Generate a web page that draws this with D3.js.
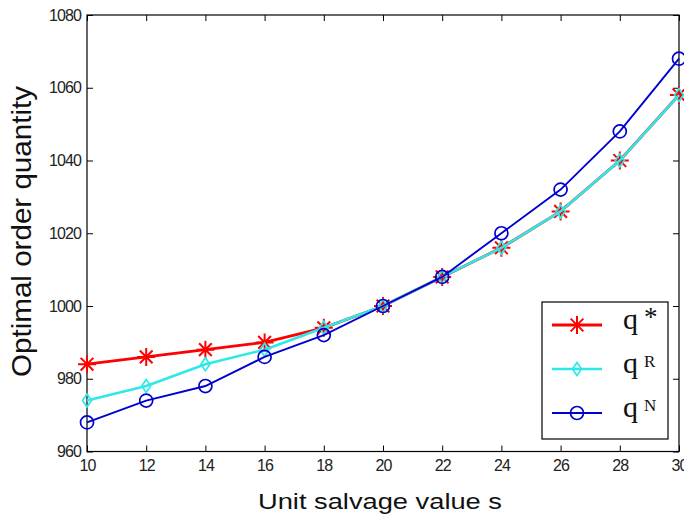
<!DOCTYPE html>
<html>
<head>
<meta charset="utf-8">
<script src="https://cdn.jsdelivr.net/npm/d3@7"></script>
<style>
  html, body { margin: 0; padding: 0; background: #fff; }
  svg { display: block; }
</style>
</head>
<body>
<svg id="chart" width="684" height="517"></svg>
<script>
// Salvage values on the x axis
const salvage = [10, 12, 14, 16, 18, 20, 22, 24, 26, 28, 30];
// Optimal order quantities for each policy
const qStar = [984, 986, 988, 990, 994, 1000, 1008, 1016, 1026, 1040, 1058];
const qR    = [974, 978, 984, 988, 994, 1000, 1008, 1016, 1026, 1040, 1058];
const qN    = [968, 974, 978, 986, 992, 1000, 1008, 1020, 1032, 1048, 1068];
const xTicks = [10, 12, 14, 16, 18, 20, 22, 24, 26, 28, 30];
const yTicks = [960, 980, 1000, 1020, 1040, 1060, 1080];
const legendNames = ["*", "R", "N"];

(function () {
  const svg = d3.select("#chart");
  const plotL = 87, plotR = 679, plotT = 15, plotB = 451.5;

  const x = d3.scaleLinear().domain([10, 30]).range([plotL, plotR]);
  const y = d3.scaleLinear().domain([960, 1080]).range([plotB, plotT]);

  const tickLen = 6;
  const font = "Arial, 'Liberation Sans', sans-serif";
  const serif = "'Liberation Serif', 'Times New Roman', serif";

  // Axes with inward ticks on all four sides
  const gx = svg.append("g").attr("transform", `translate(0,${plotB})`)
    .call(d3.axisBottom(x).tickValues(xTicks).tickSize(-tickLen).tickPadding(8).tickFormat(d3.format("d")));
  const gy = svg.append("g").attr("transform", `translate(${plotL},0)`)
    .call(d3.axisLeft(y).tickValues(yTicks).tickSize(-tickLen).tickPadding(6).tickFormat(d3.format("d")));
  const gt = svg.append("g").attr("transform", `translate(0,${plotT})`)
    .call(d3.axisTop(x).tickValues(xTicks).tickSize(-tickLen).tickFormat(""));
  const gr = svg.append("g").attr("transform", `translate(${plotR},0)`)
    .call(d3.axisRight(y).tickValues(yTicks).tickSize(-tickLen).tickFormat(""));

  [gx, gy, gt, gr].forEach(g => {
    g.select(".domain").remove();
    g.selectAll(".tick line").attr("stroke", "#000").attr("stroke-width", 1);
    g.selectAll(".tick text").attr("font-size", 16).attr("fill", "#222")
      .attr("font-family", font).attr("letter-spacing", "-0.9px");
  });

  // Plot frame
  svg.append("rect")
    .attr("x", plotL).attr("y", plotT)
    .attr("width", plotR - plotL).attr("height", plotB - plotT)
    .attr("fill", "none").attr("stroke", "#000").attr("stroke-width", 1.2);

  // Axis titles
  svg.append("text")
    .attr("x", 258).attr("y", 509)
    .attr("font-family", font).attr("font-size", 22).attr("fill", "#111")
    .attr("textLength", 244).attr("lengthAdjust", "spacingAndGlyphs")
    .text("Unit salvage value s");
  svg.append("text")
    .attr("transform", "translate(31,377) rotate(-90)")
    .attr("font-family", font).attr("font-size", 28).attr("fill", "#111")
    .attr("textLength", 291).attr("lengthAdjust", "spacingAndGlyphs")
    .text("Optimal order quantity");

  // Marker shapes
  function asterisk(r) {
    const d = r * Math.SQRT1_2;
    return `M${-r},0L${r},0M0,${-r}L0,${r}M${-d},${-d}L${d},${d}M${-d},${d}L${d},${-d}`;
  }
  function diamond(w, h) {
    return `M0,${-h}L${w},0L0,${h}L${-w},0Z`;
  }

  const series = [
    { values: qStar, color: "#ff0000", width: 2.8, marker: "star" },
    { values: qR, color: "#2ee8e8", width: 2.6, marker: "diamond" },
    { values: qN, color: "#0000d0", width: 1.9, marker: "circle" }
  ];

  const line = d3.line().x(d => x(d[0])).y(d => y(d[1]));

  function drawMarker(g, kind, color) {
    if (kind === "star") {
      g.append("path").attr("d", asterisk(9)).attr("stroke", color)
        .attr("stroke-width", 2).attr("fill", "none");
    } else if (kind === "diamond") {
      g.append("path").attr("d", diamond(4.5, 6.5)).attr("stroke", color)
        .attr("stroke-width", 1.7).attr("fill", "none");
    } else {
      g.append("circle").attr("r", 6.5).attr("stroke", color)
        .attr("stroke-width", 1.7).attr("fill", "none");
    }
  }

  series.forEach(s => {
    const pts = salvage.map((v, i) => [v, s.values[i]]);
    svg.append("path").datum(pts)
      .attr("d", line).attr("fill", "none")
      .attr("stroke", s.color).attr("stroke-width", s.width);
    pts.forEach(p => {
      const g = svg.append("g").attr("transform", `translate(${x(p[0])},${y(p[1])})`);
      drawMarker(g, s.marker, s.color);
    });
  });

  // Legend
  const lg = svg.append("g");
  lg.append("rect").attr("x", 542).attr("y", 302).attr("width", 126).attr("height", 137)
    .attr("fill", "#fff").attr("stroke", "#000").attr("stroke-width", 1.2);
  const rows = [325, 369, 413];
  series.forEach((s, i) => {
    const yy = rows[i];
    lg.append("line").attr("x1", 552).attr("x2", 602).attr("y1", yy).attr("y2", yy)
      .attr("stroke", s.color).attr("stroke-width", s.width);
    const g = lg.append("g").attr("transform", `translate(577,${yy})`);
    drawMarker(g, s.marker, s.color);
    lg.append("text").attr("x", 623).attr("y", yy + 4)
      .attr("font-family", serif).attr("font-size", 30).attr("fill", "#111").text("q");
    const isStar = legendNames[i] === "*";
    lg.append("text").attr("x", 644).attr("y", isStar ? yy + 1 : yy - 2)
      .attr("font-family", serif).attr("font-size", isStar ? 27 : 17).attr("fill", "#111")
      .text(legendNames[i]);
  });
})();
</script>
</body>
</html>
